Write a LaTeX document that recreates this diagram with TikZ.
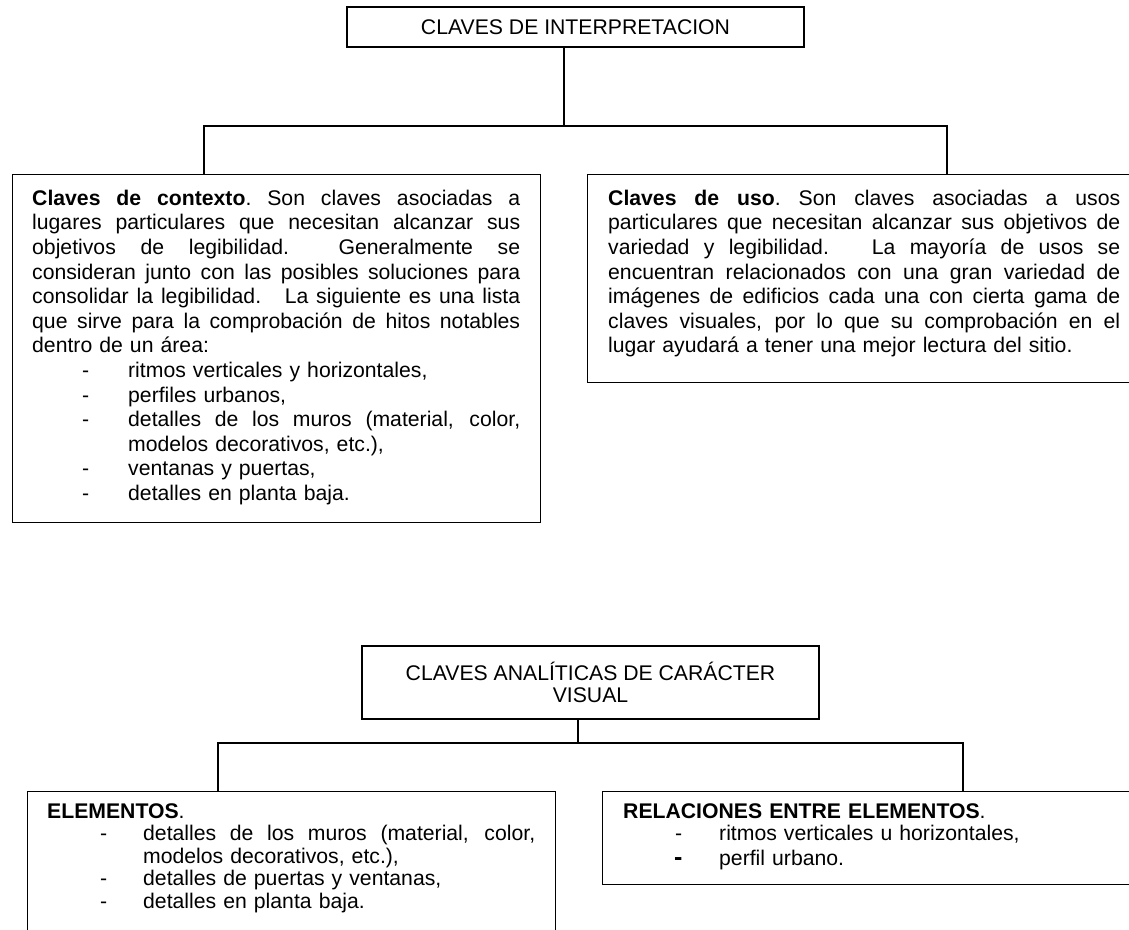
\documentclass[tikz,border=0pt]{standalone}
\usepackage{fontspec}
\setmainfont{Liberation Sans}
\setlength{\parindent}{0pt}
\setlength{\parskip}{0pt}
% stretched (justified) box of given width
\newcommand{\SB}[2]{{\spaceskip=0.278em plus 1fil\relax\xspaceskip=\spaceskip\hbox to #1{#2}}}
% justified full line
\newcommand{\JL}[2]{\leavevmode\SB{#1}{#2}\par}
% dash column for list items
\newcommand{\DS}[1]{\makebox[96pt][l]{\hspace*{#1}-}}
\begin{document}
\begin{tikzpicture}[x=1pt,y=-1pt,
  box/.style={draw, line width=1.4pt, rectangle, inner sep=0pt, anchor=north west},
  titlebox/.style={draw, line width=1.4pt, rectangle, inner sep=0pt, anchor=center, align=center,
    font=\fontsize{21.2}{22.7}\selectfont},
  bodytop/.style={inner sep=0pt, anchor=north west, font=\fontsize{21.2}{24.6}\selectfont},
  bodybot/.style={inner sep=0pt, anchor=north west, font=\fontsize{21.2}{22.5}\selectfont},
  conn/.style={line width=1.4pt}]
\useasboundingbox (0,0) rectangle (1129,929);

% ---------- upper diagram ----------
\node[titlebox, minimum width=457pt, minimum height=40pt] (tb) at (575.5,27) {CLAVES DE INTERPRETACION};

\node[box, minimum width=528pt, minimum height=348pt] (ctx) at (12,174) {};
\node[box, minimum width=570pt, minimum height=208pt] (uso) at (587,174) {};

\coordinate (jA) at (564,126);
\coordinate (jL) at (204,126);
\coordinate (jR) at (947,126);
\draw[conn] (tb.south -| jA) -- (jA);
\draw[conn] (ctx.north -| jL) -- (jL) -- (jR) -- (uso.north -| jR);

\node[bodytop, text width=488pt] (ctxT) at (32,187.8) {%
\JL{488pt}{\strut\textbf{Claves de contexto}. Son claves asociadas a}
\JL{488pt}{lugares particulares que necesitan alcanzar sus}
\JL{488pt}{objetivos de legibilidad.\ \ Generalmente se}
\JL{488pt}{consideran junto con las posibles soluciones para}
\JL{488pt}{consolidar la legibilidad.\ \ \ La siguiente es una lista}
\JL{488pt}{que sirve para la comprobación de hitos notables}
dentro de un área:\par
\DS{50pt}ritmos verticales y horizontales,\par
\DS{50pt}perfiles urbanos,\par
\DS{50pt}\SB{392pt}{detalles de los muros (material, color,}\par
\hspace*{96pt}modelos decorativos, etc.),\par
\DS{50pt}ventanas y puertas,\par
\DS{50pt}detalles en planta baja.\par};

\node[bodytop, text width=512pt] (usoT) at (608,187.8) {%
\JL{512pt}{\strut\textbf{Claves de uso}. Son claves asociadas a usos}
\JL{512pt}{particulares que necesitan alcanzar sus objetivos de}
\JL{512pt}{variedad y legibilidad.\ \ \ La mayoría de usos se}
\JL{512pt}{encuentran relacionados con una gran variedad de}
\JL{512pt}{imágenes de edificios cada una con cierta gama de}
\JL{512pt}{claves visuales, por lo que su comprobación en el}
lugar ayudará a tener una mejor lectura del sitio.\par};

% ---------- lower diagram ----------
\node[titlebox, minimum width=457pt, minimum height=73pt] (tb2) at (590.5,682.5) {CLAVES ANALÍTICAS DE CARÁCTER\\VISUAL};

\node[box, minimum width=528pt, minimum height=170pt] (ele) at (27,791) {};
\node[box, minimum width=560pt, minimum height=93pt] (rel) at (602,791) {};

\coordinate (kA) at (578,743);
\coordinate (kL) at (218,743);
\coordinate (kR) at (963,743);
\draw[conn] (tb2.south -| kA) -- (kA);
\draw[conn] (ele.north -| kL) -- (kL) -- (kR) -- (rel.north -| kR);

\node[bodybot, text width=488pt] (eleT) at (47,802.3) {%
\strut\textbf{ELEMENTOS}.\par
\DS{53pt}\SB{392pt}{detalles de los muros (material, color,}\par
\hspace*{96pt}modelos decorativos, etc.),\par
\DS{53pt}detalles de puertas y ventanas,\par
\DS{53pt}detalles en planta baja.\par};

\node[bodybot, text width=500pt] (relT) at (623,802.3) {%
\strut\textbf{RELACIONES ENTRE ELEMENTOS}.\par
\DS{52pt}ritmos verticales u horizontales,\par
\vspace{2.5pt}%
\makebox[96pt][l]{\hspace*{51pt}{\fontsize{25}{25}\selectfont\textbf{-}}}perfil urbano.\par};
\end{tikzpicture}
\end{document}
